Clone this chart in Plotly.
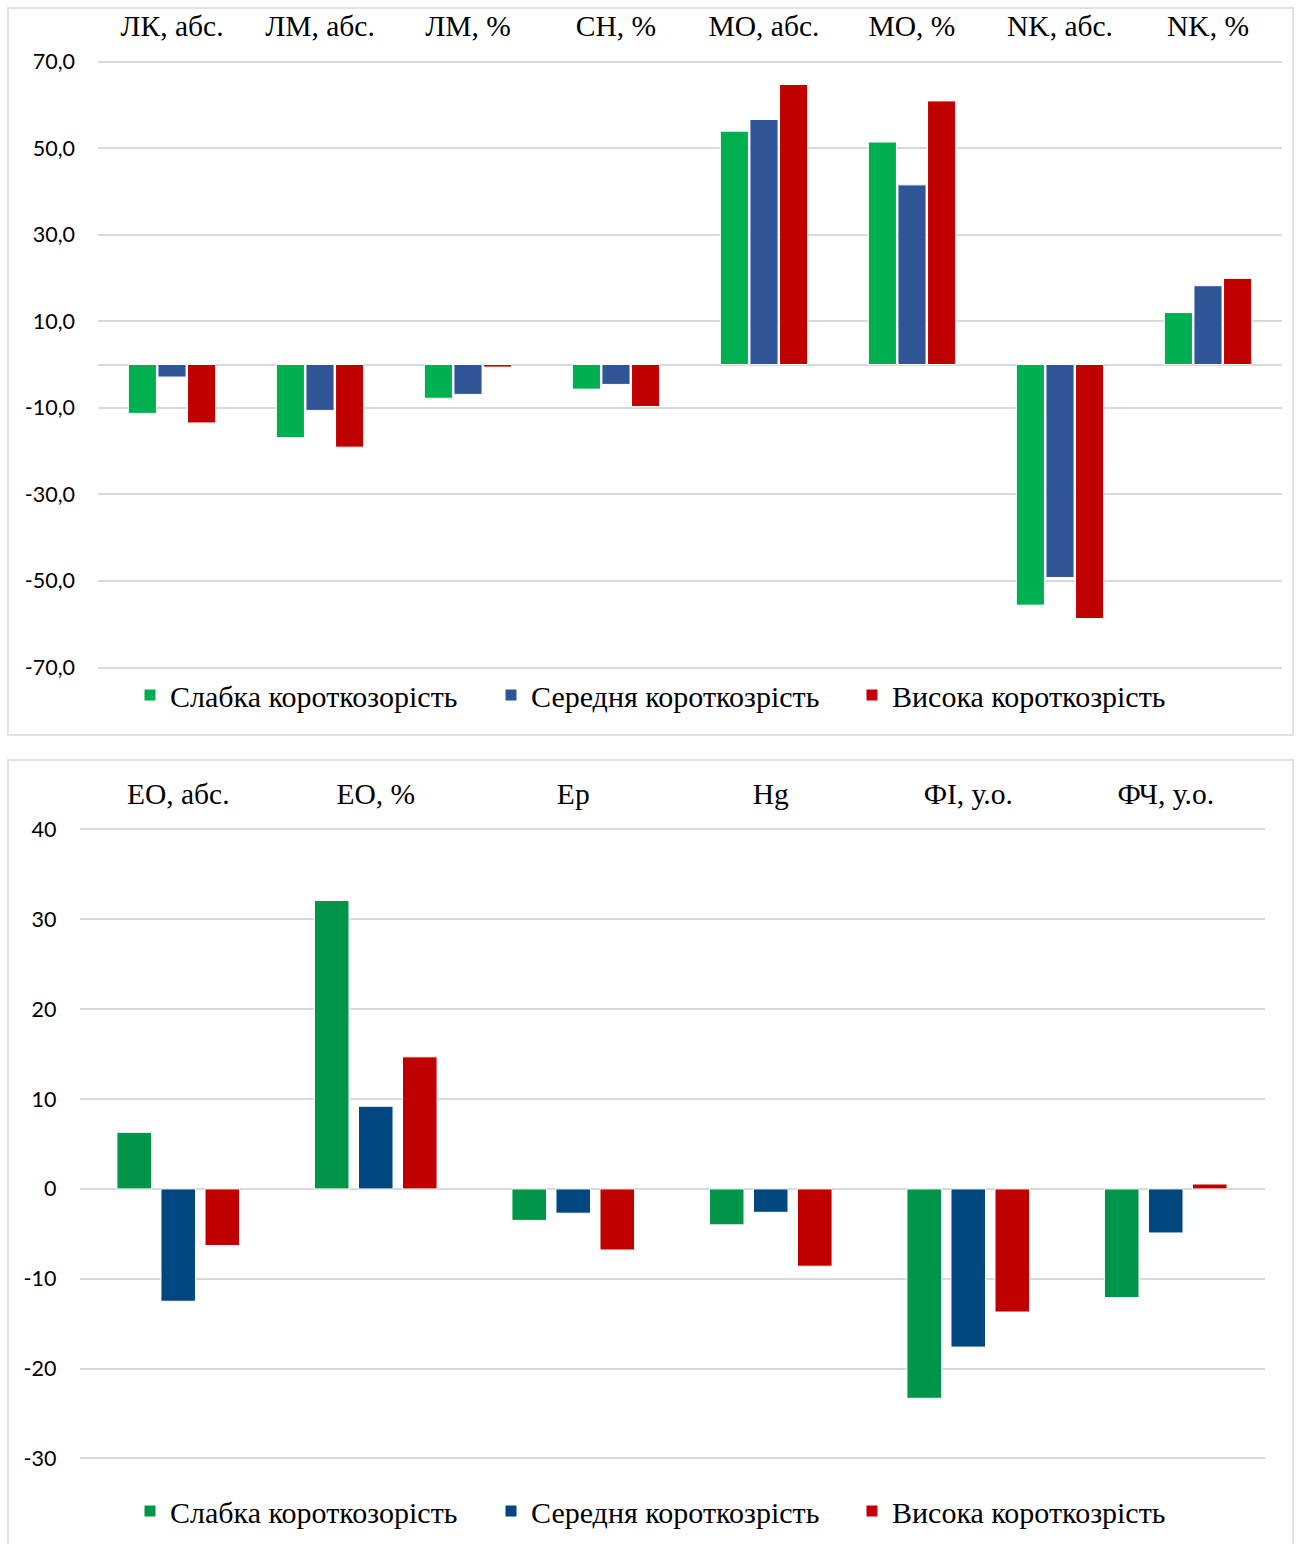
import plotly.graph_objects as go

# ---------------- data ----------------
top_categories = ["ЛК, абс.", "ЛМ, абс.", "ЛМ, %", "СН, %", "МО, абс.", "МО, %", "NK, абс.", "NK, %"]
top_weak = [-11.3, -16.9, -7.8, -5.7, 53.9, 51.4, -55.6, 12.0]
top_medium = [-2.9, -10.6, -6.9, -4.6, 56.6, 41.5, -49.2, 18.2]
top_high = [-13.5, -19.1, -0.6, -9.7, 64.7, 60.9, -58.7, 19.9]

bottom_categories = ["ЕО, абс.", "ЕО, %", "Ер", "Hg", "ФІ, у.о.", "ФЧ, у.о."]
bottom_weak = [6.3, 32.1, -3.5, -4.0, -23.3, -12.1]
bottom_medium = [-12.5, 9.2, -2.7, -2.6, -17.6, -4.9]
bottom_high = [-6.3, 14.7, -6.8, -8.6, -13.7, 0.55]

series_names = ["Слабка короткозорість", "Середня короткозрість", "Висока короткозрість"]

top_tickvals = [70, 50, 30, 10, -10, -30, -50, -70]
top_ticktext = ["70,0", "50,0", "30,0", "10,0", "-10,0", "-30,0", "-50,0", "-70,0"]
bottom_tickvals = [40, 30, 20, 10, 0, -10, -20, -30]
bottom_ticktext = ["40", "30", "20", "10", "0", "-10", "-20", "-30"]

# ---------------- style ----------------
W, H = 1299, 1544
top_colors = ["#00B050", "#2F5597", "#C00000"]
bottom_colors = ["#009548", "#00467F", "#C00000"]
serif = "Liberation Serif"
sans = "Lato"
grid = "#D9D9D9"

def px_x(p):
    return p / W

def px_y(p):
    return 1 - p / H

fig = go.Figure()

top_w = 0.19
top_off = [-0.295, -0.095, 0.105]
for vals, name, col, off in zip([top_weak, top_medium, top_high], series_names, top_colors, top_off):
    fig.add_trace(go.Bar(
        x=top_categories, y=vals, name=name, xaxis="x", yaxis="y",
        marker=dict(color=col, line=dict(color="white", width=1)),
        width=top_w, offset=off, legend="legend", hoverinfo="x+y+name",
    ))

bot_w = 0.175
bot_off = [-0.3105, -0.0875, 0.1355]
for vals, name, col, off in zip([bottom_weak, bottom_medium, bottom_high], series_names, bottom_colors, bot_off):
    fig.add_trace(go.Bar(
        x=bottom_categories, y=vals, name=name, xaxis="x2", yaxis="y2",
        marker=dict(color=col, line=dict(color="white", width=1)),
        width=bot_w, offset=off, legend="legend2", hoverinfo="x+y+name",
    ))

xcommon = dict(type="category", side="top", showgrid=False, zeroline=False, showline=False,
               ticks="", tickfont=dict(family=serif, size=29.5, color="black"), ticklabelstandoff=14)
ycommon = dict(showgrid=True, gridcolor=grid, gridwidth=1.5, zeroline=True, zerolinecolor=grid,
               zerolinewidth=1.5, showline=False, ticks="",
               tickfont=dict(family=sans, size=21.5, color="black"), ticklabelstandoff=22)

# top: 70 -> 61.5 px, -70 -> 667.5 px ; bottom: 40 -> 829.5 px, -30 -> 1458.5 px
t_ppu = (667.5 - 61.5) / 140.0
b_ppu = (1458.5 - 829.5) / 70.0
t_pad, b_pad = 1.0, 0.5

legend_common = dict(orientation="h", xanchor="left", yanchor="middle",
                     font=dict(family=serif, size=30, color="black"), bgcolor="rgba(0,0,0,0)",
                     entrywidth=316, itemwidth=30, traceorder="normal")

fig.update_layout(
    width=W, height=H, margin=dict(l=0, r=0, t=0, b=0, autoexpand=False),
    paper_bgcolor="white", plot_bgcolor="white",
    barmode="group", showlegend=True,
    xaxis=dict(domain=[px_x(98), px_x(1282)], anchor="y", range=[-0.5, 7.5], **xcommon),
    yaxis=dict(domain=[px_y(667.5 + t_pad * t_ppu), px_y(61.5 - t_pad * t_ppu)], anchor="x",
               range=[-70 - t_pad, 70 + t_pad],
               tickvals=top_tickvals, ticktext=top_ticktext, **ycommon),
    xaxis2=dict(domain=[px_x(79.5), px_x(1264.5)], anchor="y2", range=[-0.5, 5.5], **xcommon),
    yaxis2=dict(domain=[px_y(1458.5 + b_pad * b_ppu), px_y(829.5 - b_pad * b_ppu)], anchor="x2",
                range=[-30 - b_pad, 40 + b_pad],
                tickvals=bottom_tickvals, ticktext=bottom_ticktext, **ycommon),
    legend=dict(x=px_x(130), y=px_y(695), **legend_common),
    legend2=dict(x=px_x(130), y=px_y(1511), **legend_common),
    shapes=[
        dict(type="rect", xref="paper", yref="paper", x0=px_x(8), x1=px_x(1293), y0=px_y(735), y1=px_y(8),
             line=dict(color=grid, width=1.5), fillcolor="rgba(0,0,0,0)", layer="below"),
        dict(type="rect", xref="paper", yref="paper", x0=px_x(8), x1=px_x(1293), y0=px_y(1560), y1=px_y(760),
             line=dict(color=grid, width=1.5), fillcolor="rgba(0,0,0,0)", layer="below"),
    ],
)

fig.write_html("out.html")
